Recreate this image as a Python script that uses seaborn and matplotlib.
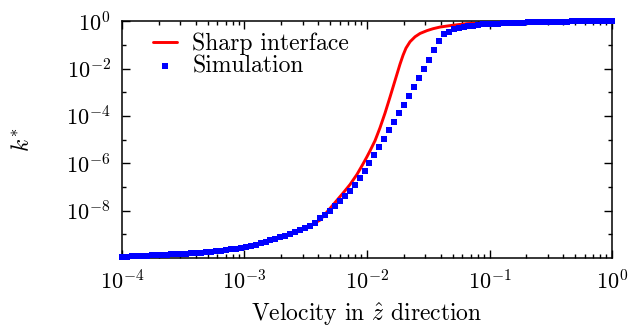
import numpy as np
import pandas as pd
import matplotlib
matplotlib.use("Agg")
import matplotlib.pyplot as plt
import seaborn as sns
from matplotlib.ticker import LogLocator, FixedLocator, NullFormatter

# ---- data (log10 values) ----
sim_log_x = [-4.000, -3.960, -3.919, -3.879, -3.838, -3.798, -3.758, -3.717, -3.677, -3.636,
             -3.596, -3.556, -3.515, -3.475, -3.434, -3.394, -3.354, -3.313, -3.273, -3.232,
             -3.192, -3.152, -3.111, -3.071, -3.030, -2.990, -2.949, -2.909, -2.869, -2.828,
             -2.788, -2.747, -2.707, -2.667, -2.626, -2.586, -2.545, -2.505, -2.465, -2.424,
             -2.384, -2.343, -2.303, -2.263, -2.222, -2.182, -2.141, -2.101, -2.061, -2.020,
             -1.980, -1.939, -1.899, -1.859, -1.818, -1.778, -1.737, -1.697, -1.657, -1.616,
             -1.576, -1.535, -1.495, -1.455, -1.414, -1.374, -1.333, -1.293, -1.253, -1.212,
             -1.172, -1.131, -1.091, -1.051, -1.010, -0.970, -0.929, -0.889, -0.848, -0.808,
             -0.768, -0.727, -0.687, -0.646, -0.606, -0.566, -0.525, -0.485, -0.444, -0.404,
             -0.364, -0.323, -0.283, -0.242, -0.202, -0.162, -0.121, -0.081, -0.040, 0.000]
sim_log_k = [-9.945, -9.94, -9.93, -9.92, -9.91, -9.90, -9.89, -9.88, -9.87, -9.855,
             -9.845, -9.835, -9.825, -9.81, -9.80, -9.785, -9.77, -9.755, -9.74, -9.72,
             -9.69, -9.66, -9.63, -9.60, -9.565, -9.53, -9.49, -9.44, -9.38, -9.32,
             -9.25, -9.19, -9.12, -9.05, -8.98, -8.915, -8.83, -8.73, -8.63, -8.50,
             -8.33, -8.17, -8.00, -7.81, -7.60, -7.40, -7.18, -6.91, -6.63, -6.32,
             -5.99, -5.66, -5.31, -4.96, -4.61, -4.25, -3.89, -3.54, -3.17, -2.80,
             -2.41, -2.02, -1.65, -1.21, -0.84, -0.56, -0.45, -0.35, -0.29, -0.25,
             -0.21, -0.19, -0.16, -0.14, -0.13, -0.12, -0.11, -0.10, -0.09, -0.08,
             -0.07, -0.06, -0.05, -0.045, -0.04, -0.035, -0.03, -0.027, -0.024, -0.021,
             -0.018, -0.015, -0.013, -0.011, -0.009, -0.007, -0.005, -0.004, -0.003, -0.002]

sharp_log_x = [-4.000, -3.363, -2.873, -2.547, -2.384, -2.278, -2.196, -2.139, -2.082, -2.033,
               -2.000, -1.976, -1.935, -1.894, -1.853, -1.812, -1.771, -1.731, -1.706, -1.682,
               -1.649, -1.608, -1.567, -1.510, -1.461, -1.404, -1.322, -1.184, -0.914, -0.506,
               0.000]
sharp_log_k = [-9.96, -9.79, -9.41, -8.86, -8.40, -7.76, -7.26, -6.90, -6.47, -6.03,
               -5.72, -5.48, -5.05, -4.50, -3.88, -3.20, -2.50, -1.82, -1.44, -1.14,
               -0.87, -0.66, -0.52, -0.40, -0.32, -0.25, -0.19, -0.105, -0.04, -0.01,
               -0.003]

x_ticks = [1e-4, 1e-3, 1e-2, 1e-1, 1e0]
y_ticks = [1e-8, 1e-6, 1e-4, 1e-2, 1e0]
y_minor = [1e-9, 1e-7, 1e-5, 1e-3, 1e-1]

sim = pd.DataFrame({"v": 10 ** np.array(sim_log_x), "k": 10 ** np.array(sim_log_k)})
sharp = pd.DataFrame({"v": 10 ** np.array(sharp_log_x), "k": 10 ** np.array(sharp_log_k)})

sns.set_style("ticks")
plt.rcParams.update({
    "font.family": ["cmr10"],
    "mathtext.fontset": "cm",
    "axes.formatter.use_mathtext": True,
    "font.size": 16,
    "axes.linewidth": 1.1,
    "axes.unicode_minus": False,
    "axes.edgecolor": "black",
    "xtick.color": "black",
    "ytick.color": "black",
    "text.color": "black",
    "axes.labelcolor": "black",
})

fig = plt.figure(figsize=(6.31, 3.30), dpi=100)
ax = fig.add_axes([0.1933, 0.218, 0.7767, 0.718])

sns.lineplot(data=sharp, x="v", y="k", ax=ax, color="#ff0000", linewidth=2.1,
             label="Sharp interface", zorder=2, sort=False)
sns.scatterplot(data=sim, x="v", y="k", ax=ax, color="#0000ff", marker="s", s=20,
                linewidth=0, label="Simulation", zorder=3, clip_on=False)

ax.set_xscale("log")
ax.set_yscale("log")
ax.set_xlim(1e-4, 1e0)
ax.set_ylim(1e-10, 1e0)

ax.xaxis.set_major_locator(FixedLocator(x_ticks))
ax.xaxis.set_minor_locator(LogLocator(base=10, subs=np.arange(2, 10), numticks=20))
ax.xaxis.set_minor_formatter(NullFormatter())
ax.yaxis.set_major_locator(FixedLocator(y_ticks))
ax.yaxis.set_minor_locator(FixedLocator(y_minor))
ax.yaxis.set_minor_formatter(NullFormatter())

ax.tick_params(which="both", direction="in", top=True, right=True, width=1.0,
               labelsize=16, colors="black")
ax.tick_params(which="major", length=6, pad=8)
ax.tick_params(which="minor", length=3)

ax.set_xlabel(r"Velocity in $\hat{z}$ direction", fontsize=17, labelpad=5)
ax.set_ylabel(r"$k^{*}$", fontsize=17, labelpad=23)

leg = ax.legend(loc="upper left", frameon=False, fontsize=17, handlelength=1.0,
                handletextpad=0.65, borderaxespad=0.2, labelspacing=0.0,
                bbox_to_anchor=(0.035, 1.01))

fig.savefig("out.png", dpi=100)
